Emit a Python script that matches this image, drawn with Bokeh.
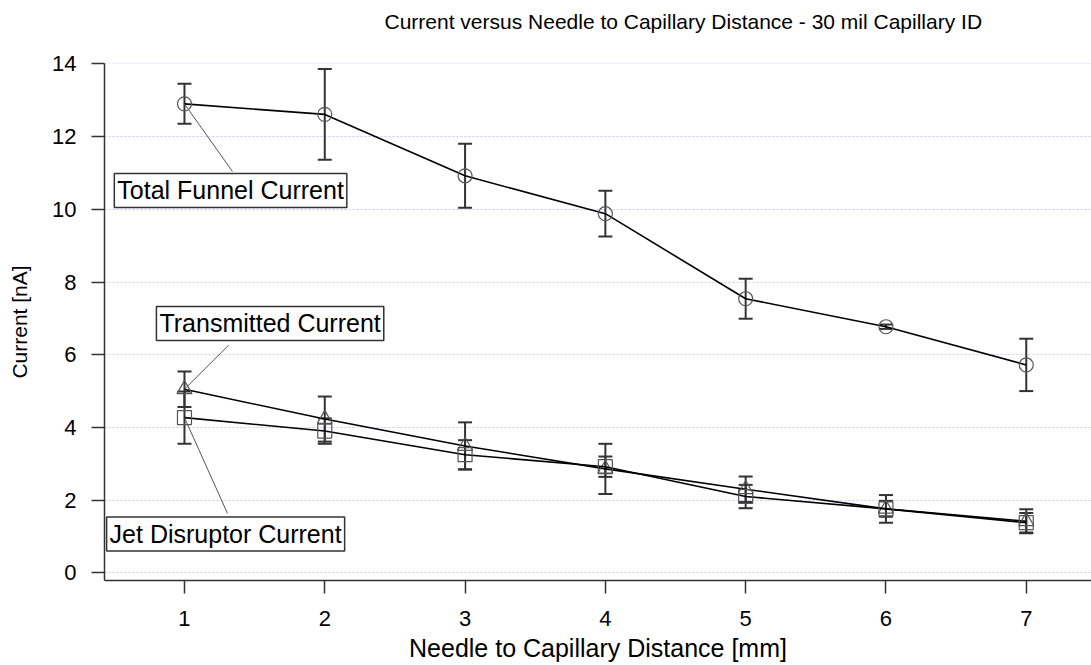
from bokeh.plotting import figure
from bokeh.models import Range1d, FixedTicker, Whisker, TeeHead, ColumnDataSource, Label, Title
from bokeh.embed import file_html
from bokeh.resources import INLINE

# ---- data ----
distance = [1, 2, 3, 4, 5, 6, 7]
total_funnel = [12.90, 12.61, 10.92, 9.88, 7.54, 6.77, 5.72]
total_funnel_err = [0.55, 1.25, 0.88, 0.63, 0.55, 0.06, 0.72]
transmitted = [5.05, 4.23, 3.49, 2.86, 2.30, 1.76, 1.42]
transmitted_err = [0.49, 0.62, 0.65, 0.69, 0.35, 0.38, 0.33]
jet_disruptor = [4.27, 3.90, 3.25, 2.92, 2.10, 1.76, 1.38]
jet_disruptor_err = [0.72, 0.35, 0.40, 0.28, 0.32, 0.22, 0.27]
y_ticks = [0, 2, 4, 6, 8, 10, 12, 14]
x_ticks = [1, 2, 3, 4, 5, 6, 7]
title_text = "Current versus Needle to Capillary Distance - 30 mil Capillary ID"

FONT = "Liberation Sans"

p = figure(width=1091, height=665, output_backend="svg", toolbar_location=None,
           x_range=Range1d(0.43, 7.465), y_range=Range1d(-0.21, 14.01),
           min_border_left=104, min_border_right=0, min_border_top=63, min_border_bottom=85)
p.outline_line_color = None
p.background_fill_color = "white"
p.border_fill_color = "white"

# real title (outer), spacer title added afterwards sits next to the frame
p.title.text = title_text
p.title.text_font = FONT
p.title.text_font_size = "21px"
p.title.text_font_style = "normal"
p.title.text_color = "black"
p.title.align = "left"
p.title.offset = 280
p.title.vertical_align = "bottom"
p.title.standoff = 8
spacer = Title(text=" ", text_font_size="10px", standoff=14)
p.add_layout(spacer, "above")

p.xgrid.grid_line_color = None
p.ygrid.grid_line_color = "#c8c8ff"
p.ygrid.grid_line_dash = "2 2"
p.ygrid.grid_line_width = 1

for ax in (p.xaxis, p.yaxis):
    ax.axis_line_color = "#333333"
    ax.axis_line_width = 1.5
    ax.major_tick_line_color = "#333333"
    ax.major_tick_line_width = 1.5
    ax.major_tick_out = 13
    ax.major_tick_in = 0
    ax.minor_tick_line_color = None
    ax.major_label_text_font = FONT
    ax.major_label_text_font_size = "22px"
    ax.major_label_text_color = "black"
    ax.axis_label_text_font = FONT
    ax.axis_label_text_font_style = "normal"
    ax.axis_label_text_color = "black"

p.xaxis.ticker = FixedTicker(ticks=x_ticks)
p.yaxis.ticker = FixedTicker(ticks=y_ticks)
p.xaxis.axis_label = "Needle to Capillary Distance [mm]"
p.yaxis.axis_label = "Current [nA]"
p.xaxis.axis_label_text_font_size = "25px"
p.yaxis.axis_label_text_font_size = "21px"
p.xaxis.major_label_standoff = 17
p.yaxis.major_label_standoff = 15
p.xaxis.axis_label_standoff = 5
p.yaxis.axis_label_standoff = 18

series = [
    (total_funnel, total_funnel_err, "circle"),
    (transmitted, transmitted_err, "triangle"),
    (jet_disruptor, jet_disruptor_err, "square"),
]

for vals, errs, marker in series:
    src = ColumnDataSource(dict(
        x=distance, y=vals,
        upper=[v + e for v, e in zip(vals, errs)],
        lower=[v - e for v, e in zip(vals, errs)],
    ))
    p.line("x", "y", source=src, line_color="black", line_width=1.6)
    w = Whisker(base="x", upper="upper", lower="lower", source=src,
                line_color="#333333", line_width=2,
                upper_head=TeeHead(size=14, line_color="#333333", line_width=2),
                lower_head=TeeHead(size=14, line_color="#333333", line_width=2))
    p.add_layout(w)
    p.scatter("x", "y", source=src, marker=marker, size=14 if marker != "triangle" else 15,
              fill_alpha=0, line_color="#555555", line_width=1.2)

# ---- annotation labels with pointer lines (layout) ----
labels = [
    ("Total Funnel Current", 0.50, 10.52, (1.0, total_funnel[0]), (1.342, 11.04)),
    ("Transmitted Current", 0.80, 6.86, (1.0, transmitted[0]), (1.314, 6.26)),
    ("Jet Disruptor Current", 0.445, 1.07, (1.0, jet_disruptor[0]), (1.306, 1.64)),
]
for text, lx, ly, (x0, y0), (x1, y1) in labels:
    p.segment(x0=[x0], y0=[y0], x1=[x1], y1=[y1], line_color="#555555", line_width=1)
    lab = Label(x=lx, y=ly, text=text, text_font=FONT, text_font_size="25px",
                text_align="left", text_baseline="middle", text_color="black",
                background_fill_color="white", border_line_color="#333333",
                border_line_width=1.5, padding=3)
    p.add_layout(lab)

open("out.html", "w").write(file_html(p, INLINE))
